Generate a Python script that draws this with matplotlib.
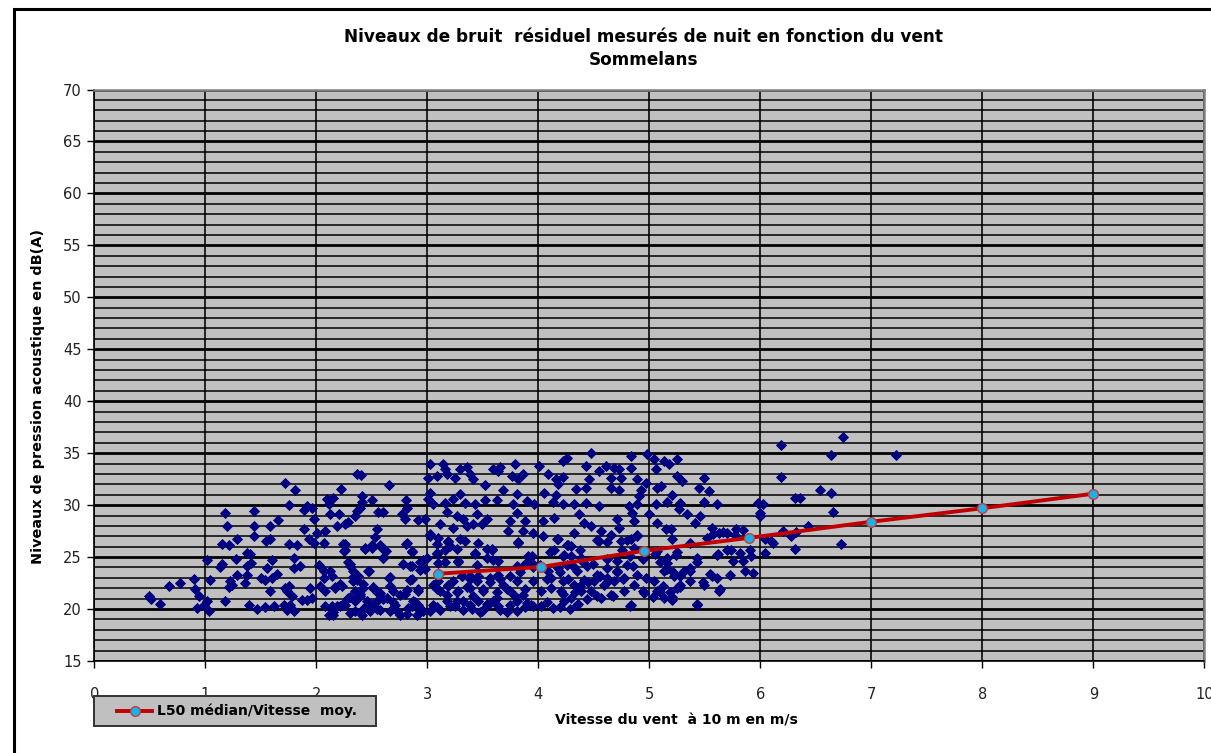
import numpy as np
import matplotlib
matplotlib.use("Agg")
import matplotlib.pyplot as plt
from matplotlib.lines import Line2D
from matplotlib.patches import Rectangle

# ============================================================
# DATA
# ============================================================
TITLE = "Niveaux de bruit  résiduel mesurés de nuit en fonction du vent\nSommelans"
X_LABEL = "Vitesse du vent  à 10 m en m/s"
Y_LABEL = "Niveaux de pression acoustique en dB(A)"
LEGEND_LABEL = "L50 médian/Vitesse  moy."

# L50 median per wind class
l50_wind = [3.1, 4.02, 4.95, 5.9, 7.0, 8.0, 9.0]
l50_level = [23.4, 24.05, 25.6, 26.85, 28.4, 29.7, 31.1]

# measured samples (wind m/s, level dB(A)), grouped by wind range
pts_0_2 = [
    (0.49, 21.22), (0.51, 21.0), (0.595, 20.48), (0.67, 22.25), (0.775, 22.47),
    (0.895, 22.9), (0.91, 21.96), (0.94, 21.22), (1.015, 20.73), (0.985, 20.4),
    (0.925, 20.1), (1.03, 19.77), (1.015, 24.73), (1.045, 22.8), (1.18, 29.2),
    (1.195, 28.0), (1.15, 26.27), (1.21, 26.2), (1.15, 24.34), (1.135, 24.0),
    (1.18, 20.8), (1.225, 22.66), (1.21, 22.08), (1.24, 22.34), (1.285, 26.7),
    (1.28, 24.86), (1.285, 23.3), (1.355, 22.47), (1.375, 25.4), (1.40, 25.3),
    (1.375, 24.1), (1.41, 24.44), (1.38, 23.3), (1.39, 20.4), (1.435, 29.43),
    (1.435, 28.0), (1.44, 27.0), (1.465, 20.0), (1.5, 23.0), (1.54, 22.76),
    (1.55, 26.53), (1.585, 26.7), (1.585, 28.04), (1.6, 24.76), (1.555, 23.95),
    (1.58, 21.77), (1.54, 20.16), (1.615, 20.25), (1.6, 23.0), (1.645, 23.37),
    (1.655, 28.53), (1.72, 32.1), (1.81, 31.5), (1.75, 30.0), (1.75, 26.27),
    (1.825, 26.2), (1.795, 24.92), (1.795, 23.95), (1.855, 24.1), (1.72, 22.02),
    (1.75, 22.18), (1.735, 21.7), (1.78, 21.22), (1.705, 20.4), (1.765, 20.4),
    (1.795, 19.77), (1.735, 19.93), (1.885, 29.5), (1.915, 29.9), (1.96, 29.75),
    (1.885, 27.66), (1.975, 28.62), (1.93, 26.7), (1.975, 26.37), (1.945, 22.02),
    (1.87, 20.9), (1.915, 20.9), (1.96, 21.05),
]
pts_2_3 = [
    (2.005, 27.33), (2.08, 27.5), (2.065, 26.37), (2.02, 24.27), (2.065, 23.63),
    (2.065, 23.0), (2.035, 22.18), (2.08, 21.7), (2.08, 20.25), (2.11, 19.44),
    (2.095, 30.56), (2.11, 30.07),
    (2.363, 32.97), (2.4, 32.9), (2.222, 31.6), (2.658, 31.9), (2.153, 30.65),
    (2.123, 29.1), (2.2, 29.1), (2.414, 30.88), (2.408, 30.33), (2.498, 30.46),
    (2.363, 29.43), (2.393, 29.75), (2.348, 28.95), (2.183, 27.98), (2.258, 28.2),
    (2.288, 28.4), (2.559, 29.36), (2.604, 29.36), (2.544, 27.75), (2.769, 29.17),
    (2.808, 30.46), (2.814, 29.75), (2.8, 28.62), (2.919, 28.53), (2.979, 28.62),
    (2.528, 26.9), (2.258, 26.27), (2.25, 25.56), (2.438, 25.82), (2.498, 25.9),
    (2.589, 25.9), (2.628, 25.63), (2.808, 26.3), (2.859, 25.5), (2.604, 24.92),
    (2.784, 24.34), (2.859, 24.1), (2.303, 24.34), (2.333, 23.63), (2.378, 23.15),
    (2.477, 23.63), (2.123, 23.63), (2.14, 23.15), (2.658, 23.0), (2.844, 22.83),
    (2.934, 23.8), (2.964, 24.76), (2.168, 22.02), (2.228, 22.25), (2.333, 22.66),
    (2.363, 22.83),
    (2.288, 21.05), (2.348, 20.73), (2.393, 21.22), (2.453, 20.4), (2.514, 22.02),
    (2.574, 21.54), (2.634, 21.05), (2.709, 20.4), (2.754, 21.38), (2.83, 20.1),
    (2.874, 20.73), (2.919, 21.7), (2.964, 19.77), (2.303, 19.6), (2.408, 19.44),
    (2.483, 19.77), (2.574, 19.93), (2.664, 19.77), (2.754, 19.44), (2.904, 19.44),
    (2.213, 20.25), (2.14, 20.25), (2.258, 20.4), (2.423, 22.02), (2.544, 20.73),
    (2.694, 21.7), (2.814, 21.86), (2.919, 20.4), (2.153, 19.44), (2.348, 21.7),
    (2.243, 26.28), (2.258, 25.64), (2.438, 25.86), (2.498, 26.12), (2.574, 26.18),
    (2.619, 25.73), (2.604, 24.9), (2.814, 26.38), (2.859, 25.54), (2.288, 24.51),
    (2.303, 24.19), (2.468, 23.7), (2.333, 23.06), (2.213, 22.42), (2.168, 22.09),
    (2.423, 22.42), (2.514, 22.09), (2.544, 21.61), (2.664, 23.06), (2.664, 22.25),
    (2.784, 24.35), (2.844, 24.19), (2.859, 22.9), (2.919, 21.93), (2.934, 24.51),
    (2.979, 23.86), (2.303, 21.13), (2.393, 21.45), (2.453, 20.81), (2.514, 20.48),
    (2.604, 20.97), (2.694, 20.64), (2.8, 21.45), (2.859, 20.32), (2.934, 19.84),
    (2.348, 19.84), (2.423, 20.0), (2.243, 20.48), (2.153, 19.68), (2.724, 19.84),
    (2.814, 19.52), (2.889, 20.64), (2.544, 20.0), (2.183, 20.32),
]
pts_3_4 = [
    (3.024, 33.94), (3.144, 33.94), (3.159, 33.45), (3.294, 33.45), (3.354, 33.68),
    (3.595, 33.45), (3.655, 33.68), (3.64, 33.3), (3.79, 33.94), (3.865, 32.97),
    (3.76, 32.8), (3.82, 32.5), (3.009, 32.65), (3.084, 32.8), (3.174, 32.97),
    (3.249, 32.65), (3.384, 32.97), (3.414, 32.5), (3.52, 31.9), (3.685, 31.5),
    (3.805, 31.04), (3.895, 30.4),
    (3.024, 31.2), (3.009, 30.56), (3.054, 30.07), (3.159, 30.23), (3.234, 30.56),
    (3.294, 31.04), (3.339, 30.23), (3.429, 30.07), (3.52, 30.46), (3.625, 30.46),
    (3.775, 30.07), (3.805, 29.27), (3.745, 28.46), (3.88, 28.46),
    (3.174, 29.36), (3.264, 28.95), (3.324, 28.62), (3.444, 29.1), (3.489, 28.14),
    (3.535, 28.62), (3.73, 27.5), (3.865, 27.5), (3.114, 28.14), (3.234, 27.8),
    (3.354, 27.98), (3.414, 28.14),
    (3.024, 27.0), (3.099, 26.85), (3.189, 26.53), (3.294, 26.7), (3.339, 26.53),
    (3.459, 26.37), (3.58, 25.72), (3.82, 26.37), (3.429, 25.4), (3.084, 25.4),
    (3.159, 25.72), (3.204, 26.05),
    (2.994, 24.92), (3.099, 24.44), (3.279, 24.6), (3.444, 24.27), (3.535, 24.92),
    (3.595, 24.76), (3.865, 24.1), (3.91, 25.08),
    (3.054, 22.34), (3.114, 21.7), (3.174, 21.38), (3.234, 22.66), (3.309, 23.15),
    (3.384, 22.02), (3.444, 22.66), (3.505, 21.7), (3.565, 23.0), (3.64, 23.3),
    (3.685, 22.34), (3.745, 21.7), (3.805, 22.66), (3.865, 21.38), (3.054, 20.4),
    (3.114, 19.93), (3.204, 20.25), (3.264, 20.73), (3.324, 19.93), (3.384, 20.4),
    (3.459, 20.73), (3.535, 20.25), (3.595, 20.73), (3.655, 19.93), (3.745, 20.4),
    (3.805, 19.77), (3.895, 20.57), (3.099, 22.66), (3.189, 22.34), (3.384, 23.15),
    (3.625, 21.05), (3.489, 19.77), (3.024, 19.77), (3.279, 21.7),
    (3.024, 27.25), (3.084, 26.28), (3.189, 26.44), (3.264, 25.8), (3.084, 25.31),
    (3.159, 24.51), (3.279, 24.51), (3.429, 25.31), (3.535, 25.8), (3.58, 25.8),
    (3.309, 23.22), (3.384, 22.9), (3.459, 23.22), (3.565, 22.58), (3.655, 22.9),
    (3.745, 23.22), (3.835, 23.54), (3.895, 24.51), (3.94, 25.15), (3.955, 24.03),
    (3.084, 21.93), (3.189, 22.25), (3.264, 21.61), (3.354, 22.09), (3.414, 21.29),
    (3.505, 21.93), (3.625, 21.61), (3.715, 21.93), (3.79, 21.29), (3.88, 21.93),
    (3.084, 20.16), (3.174, 20.81), (3.249, 20.32), (3.324, 20.81), (3.399, 20.0),
    (3.535, 20.48), (3.64, 20.32), (3.805, 20.81), (3.88, 20.16), (3.955, 20.32),
    (3.474, 19.68), (3.715, 19.68), (3.82, 26.44), (3.64, 24.67), (3.805, 24.19),
]
pts_4_6 = [
    (4.473, 35.06), (4.219, 34.26), (4.263, 34.58), (4.009, 33.78), (4.428, 33.78),
    (4.084, 32.97), (4.159, 32.5), (4.219, 32.72), (4.174, 32.0), (4.054, 31.2),
    (4.159, 30.97), (4.338, 31.6), (4.428, 31.68), (4.458, 32.5), (4.548, 33.3),
    (4.608, 33.78), (4.683, 33.6), (4.728, 33.45), (4.653, 32.65), (4.743, 32.65),
    (4.653, 31.68), (4.728, 31.5), (4.832, 34.74), (4.982, 34.9), (4.832, 33.6),
    (4.892, 32.5), (4.967, 32.17), (4.922, 31.5), (4.907, 30.88), (5.042, 34.42),
    (5.132, 34.26), (5.177, 34.0), (5.251, 34.42), (5.057, 33.45), (5.072, 31.68),
    (5.102, 31.84), (5.251, 32.8), (5.296, 32.3), (5.491, 32.65), (5.446, 31.68),
    (5.536, 31.36), (5.207, 30.97),
    (3.964, 30.07), (4.129, 30.33), (4.219, 30.07), (4.323, 30.07), (4.428, 30.23),
    (4.548, 29.9), (4.817, 29.9), (4.892, 30.07), (4.847, 29.27), (5.057, 30.07),
    (5.162, 30.33), (5.281, 30.23), (5.266, 29.6), (5.491, 30.33), (5.611, 30.07),
    (4.039, 28.46), (4.144, 28.78), (4.368, 29.1), (4.413, 28.3), (4.473, 27.98),
    (4.713, 28.62), (4.728, 27.8), (4.862, 28.46), (4.997, 29.1), (5.072, 28.3),
    (5.147, 27.66), (5.192, 27.66), (5.341, 29.1), (5.416, 28.3), (5.461, 28.95),
    (5.566, 27.8), (5.626, 27.33), (5.701, 27.33),
    (4.323, 27.33), (4.563, 27.5), (4.653, 27.17), (3.949, 27.33), (4.039, 27.0),
    (4.174, 26.7), (4.263, 26.2), (4.293, 26.05), (4.548, 26.53), (4.743, 26.53),
    (4.832, 26.7), (4.892, 27.0), (4.144, 25.72), (4.234, 25.24), (4.293, 25.08),
    (5.207, 26.7), (5.371, 26.37), (5.521, 26.85), (4.757, 25.72), (4.862, 25.9),
    (5.072, 25.56), (5.162, 24.92), (5.237, 25.24), (5.431, 24.92), (5.611, 25.24),
    (5.701, 25.72),
    (3.964, 24.27), (4.084, 23.63), (4.174, 23.95), (4.263, 24.27), (4.353, 23.63),
    (4.443, 24.1), (4.533, 23.3), (4.623, 23.95), (4.713, 23.63), (4.802, 24.27),
    (4.892, 23.3), (4.383, 24.92), (4.114, 23.0), (4.219, 22.66), (4.323, 22.34),
    (4.413, 22.83), (4.503, 22.66), (4.593, 22.34), (4.683, 22.66), (4.772, 23.0),
    (4.862, 22.34), (4.967, 23.0), (5.042, 22.66), (5.132, 23.63), (5.222, 23.15),
    (5.311, 23.63), (5.371, 23.95), (5.281, 22.34), (5.371, 22.66), (4.024, 21.7),
    (4.114, 22.02), (4.204, 21.7), (4.293, 21.05), (4.383, 21.7), (4.563, 21.05),
    (4.653, 21.38), (4.832, 20.4), (4.952, 21.54), (5.072, 21.7), (5.132, 21.05),
    (5.207, 20.9), (5.251, 22.02), (5.431, 20.4), (5.491, 22.34), (5.626, 21.7),
    (5.566, 23.15), (3.934, 20.4), (4.024, 20.25), (4.129, 20.1), (4.234, 20.73),
    (4.353, 20.4), (3.949, 22.66), (4.012, 24.2), (5.162, 24.44), (5.611, 23.0),
    (4.772, 21.7), (4.473, 21.7), (4.623, 23.0),
    (4.165, 26.76), (4.27, 26.12), (4.375, 25.64), (4.526, 26.6), (4.616, 26.44),
    (4.796, 26.6), (4.886, 27.09), (4.105, 25.48), (4.225, 25.15), (4.315, 24.19),
    (4.405, 24.51), (4.495, 24.35), (4.616, 24.83), (4.706, 24.67), (4.826, 25.15),
    (4.075, 22.9), (4.195, 23.54), (4.27, 22.9), (4.375, 22.25), (4.45, 22.58),
    (4.556, 23.22), (4.616, 22.58), (4.706, 23.54), (4.766, 22.9), (4.856, 24.19),
    (4.946, 24.83), (4.946, 21.77), (4.225, 21.45), (4.33, 21.61), (4.36, 20.48),
    (4.435, 20.97), (4.526, 21.29), (4.676, 21.29), (4.826, 20.32), (4.075, 20.64),
    (4.195, 20.16), (4.285, 20.0),
    (5.051, 25.31), (5.096, 24.51), (5.156, 23.86), (5.216, 23.54), (5.276, 23.22),
    (5.366, 23.7), (5.126, 22.25), (5.186, 21.61), (5.276, 22.09), (5.036, 21.13),
    (5.201, 21.13), (5.426, 20.48), (5.486, 22.58), (5.547, 23.38), (5.622, 25.31),
    (5.637, 21.93), (5.426, 24.51), (5.577, 27.25), (5.667, 27.41), (5.246, 25.48),
    (5.096, 21.61),
]
pts_6_up = [
    (6.745, 36.6), (6.189, 35.8), (6.640, 34.8), (7.225, 34.86), (6.189, 32.75),
    (6.541, 31.5), (6.640, 31.2), (6.310, 30.72), (6.354, 30.72), (5.979, 30.23),
    (6.024, 30.07), (6.0, 29.27), (6.0, 28.95), (6.655, 29.36), (5.784, 27.66),
    (5.844, 27.56), (5.769, 27.17), (6.430, 27.98), (6.204, 27.5), (6.279, 27.0),
    (6.324, 27.43), (6.039, 26.7), (6.099, 26.53), (6.114, 26.37), (5.739, 25.72),
    (5.814, 25.4), (5.904, 25.72), (5.919, 25.08), (6.039, 25.4), (6.309, 25.82),
    (6.730, 26.27), (5.754, 24.6), (5.844, 24.6), (5.859, 23.7), (5.934, 23.47),
    (5.724, 23.3),
]

X_TICKS = list(range(0, 11))
Y_TICKS = list(range(15, 71, 5))

# ============================================================
# STYLE
# ============================================================
PLOT_BG = "#c0c0c0"
POINT_COLOR = "#000080"
LINE_COLOR = "#c00000"
MARKER_FACE = "#1ab0ea"
MARKER_EDGE = "#c04040"

plt.rcParams["font.family"] = ["DejaVu Sans"]


def main():
    pts = pts_0_2 + pts_2_3 + pts_3_4 + pts_4_6 + pts_6_up
    wind = np.array([p[0] for p in pts])
    level = np.array([p[1] for p in pts])

    W, H = 1211, 753
    fig = plt.figure(figsize=(W / 100, H / 100), dpi=100)

    # outer chart border (top and left visible)
    fig.add_artist(Rectangle((14 / W, -0.1), 1.2, 1 - 9 / H + 0.1,
                             transform=fig.transFigure, fill=False,
                             edgecolor="black", linewidth=2.2))

    left, right = 94.3 / W, 1204.3 / W
    bottom, top = 1 - 661 / H, 1 - 89.5 / H
    ax = fig.add_axes([left, bottom, right - left, top - bottom])
    ax.set_facecolor(PLOT_BG)

    ax.set_xlim(0, 10)
    ax.set_ylim(15, 70)
    ax.set_xticks(X_TICKS)
    ax.set_yticks(Y_TICKS)
    ax.set_yticks(np.arange(15, 71, 1), minor=True)

    # grid: every dB minor, every 5 dB major, every m/s vertical
    ax.grid(axis="y", which="minor", color="black", linewidth=1.1, zorder=1)
    ax.grid(axis="y", which="major", color="black", linewidth=2.0, zorder=1)
    ax.grid(axis="x", which="major", color="#222222", linewidth=1.4, zorder=1)
    ax.set_axisbelow(True)

    ax.tick_params(axis="both", which="major", direction="out", length=5,
                   width=1, color="black", labelsize=10.5, labelcolor="#222222")
    ax.tick_params(axis="x", pad=14)
    ax.tick_params(axis="y", pad=4)
    ax.tick_params(axis="both", which="minor", length=0)

    for side in ("left", "bottom"):
        ax.spines[side].set_color("black")
        ax.spines[side].set_linewidth(1.2)
    for side in ("top", "right"):
        ax.spines[side].set_color("#808080")
        ax.spines[side].set_linewidth(1.8)

    ax.plot(wind, level, linestyle="none", marker="D", markersize=4.9,
            color=POINT_COLOR, markeredgewidth=0.6, zorder=3)

    ax.plot(l50_wind, l50_level, color=LINE_COLOR, linewidth=2.8,
            marker="o", markersize=7, markerfacecolor=MARKER_FACE,
            markeredgecolor=MARKER_EDGE, markeredgewidth=1.0, zorder=4)

    title_lines = TITLE.split("\n")
    fig.text(643 / W, 1 - 37 / H, title_lines[0], ha="center", va="center",
             fontsize=12.2, fontweight="bold")
    fig.text(643 / W, 1 - 60 / H, title_lines[1], ha="center", va="center",
             fontsize=12.2, fontweight="bold")

    fig.text(676 / W, 1 - 720 / H, X_LABEL, ha="center", va="center",
             fontsize=10.1, fontweight="bold")
    fig.text(38 / W, 1 - 397 / H, Y_LABEL, ha="center", va="center",
             rotation=90, fontsize=10.4, fontweight="bold")

    # legend box, drawn by hand to match the Excel layout
    fig.add_artist(Rectangle((94 / W, 1 - 726 / H), 282 / W, 30 / H,
                             transform=fig.transFigure, facecolor=PLOT_BG,
                             edgecolor="#333333", linewidth=1.4))
    fig.add_artist(Line2D([117 / W, 152 / W], [1 - 711 / H, 1 - 711 / H],
                          transform=fig.transFigure, color=LINE_COLOR,
                          linewidth=2.8))
    fig.add_artist(Line2D([134.5 / W], [1 - 711 / H], transform=fig.transFigure,
                          marker="o", markersize=7, markerfacecolor=MARKER_FACE,
                          markeredgecolor=MARKER_EDGE, markeredgewidth=1.0))
    fig.text(157 / W, 1 - 711 / H, LEGEND_LABEL, ha="left", va="center",
             fontsize=10, fontweight="bold")

    fig.savefig("out.png", dpi=100)
    plt.close(fig)


if __name__ == "__main__":
    main()
